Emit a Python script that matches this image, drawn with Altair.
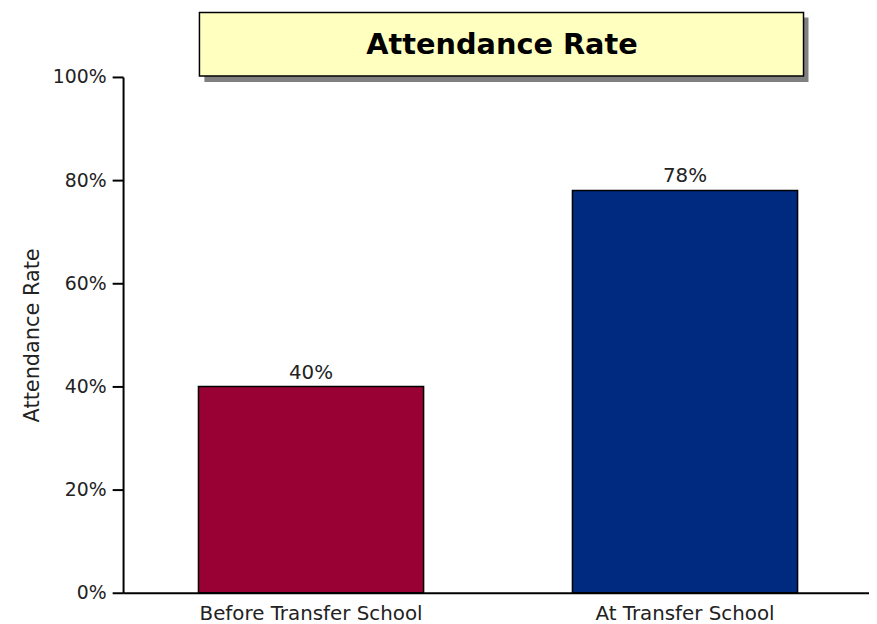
import altair as alt
import pandas as pd

categories = ["Before Transfer School", "At Transfer School"]
rates = [0.40, 0.78]
bar_colors = ["#990033", "#002a7f"]
chart_title = "Attendance Rate"
y_ticks = [0, 0.2, 0.4, 0.6, 0.8, 1.0]

df = pd.DataFrame({"cat": categories, "rate": rates})
tdf = pd.DataFrame({"t": [chart_title]})

FONT = "DejaVu Sans"

x = alt.X("cat:N", sort=categories, title=None,
          scale=alt.Scale(paddingInner=0.398, paddingOuter=0.2016, range=[0, 756]),
          axis=alt.Axis(labelAngle=0, ticks=False, domainColor="black", domainWidth=2,
                        labelFont=FONT, labelFontSize=20, labelColor="#222222",
                        labelPadding=11, labelLimit=0))
y = alt.Y("rate:Q", title="Attendance Rate",
          scale=alt.Scale(domain=[0, 1]),
          axis=alt.Axis(format="%", values=y_ticks, grid=False, domainColor="black",
                        domainWidth=2, tickColor="black", tickWidth=2, tickSize=11,
                        labelFont=FONT, labelFontSize=19, labelColor="#222222",
                        labelPadding=6, titleFont=FONT, titleFontSize=21,
                        titleFontWeight="normal", titleColor="#222222", titlePadding=10))

bars = alt.Chart(df).mark_bar(stroke="black", strokeWidth=1.5).encode(
    x=x, y=y,
    color=alt.Color("cat:N", scale=alt.Scale(domain=categories, range=bar_colors), legend=None),
)
labels = alt.Chart(df).mark_text(baseline="bottom", dy=-4, font=FONT, fontSize=20,
                                 color="#222222").encode(
    x=alt.X("cat:N", sort=categories),
    y="rate:Q",
    text=alt.Text("rate:Q", format=".0%"),
)

shadow = alt.Chart(tdf).mark_rect(color="#808080").encode(
    x=alt.value(82), x2=alt.value(691), y=alt.value(-60), y2=alt.value(5))
box = alt.Chart(tdf).mark_rect(fill="#ffffc0", stroke="black", strokeWidth=1.5).encode(
    x=alt.value(77), x2=alt.value(686), y=alt.value(-65), y2=alt.value(-1))
ttext = alt.Chart(tdf).mark_text(font=FONT, fontSize=29, fontWeight="bold", color="black",
                                 baseline="middle", align="center").encode(
    x=alt.value(382), y=alt.value(-32), text="t:N")

chart = alt.layer(shadow, box, ttext, bars, labels).properties(
    width=752, height=520,
    autosize=alt.AutoSizeParams(type="none"),
    padding={"left": 116, "top": 67, "right": 0, "bottom": 31},
).configure_view(stroke=None)

chart.save("out.html", embed_options={"renderer": "svg", "actions": False})
